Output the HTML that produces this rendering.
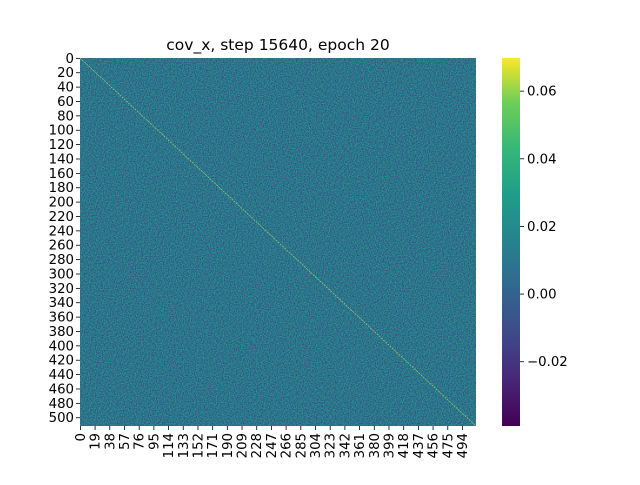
<!DOCTYPE html>
<html><head><meta charset="utf-8"><style>
body{margin:0;background:#fff}
svg text{font-family:"DejaVu Sans","Liberation Sans",sans-serif;font-size:13.3px;fill:#000}
</style></head><body>
<svg id="c" width="640" height="480">
<defs>
<linearGradient id="vir" x1="0" y1="1" x2="0" y2="0">
<stop offset="0" stop-color="#440154"/><stop offset="0.13" stop-color="#482878"/>
<stop offset="0.25" stop-color="#3e4a89"/><stop offset="0.38" stop-color="#31688e"/>
<stop offset="0.5" stop-color="#26828e"/><stop offset="0.63" stop-color="#1f9e89"/>
<stop offset="0.75" stop-color="#35b779"/><stop offset="0.88" stop-color="#6ece58"/>
<stop offset="1" stop-color="#fde725"/></linearGradient>
<filter id="nz" x="0" y="0" width="1" height="1" color-interpolation-filters="sRGB">
<feTurbulence type="fractalNoise" baseFrequency="0.85" numOctaves="2" seed="3"/>
<feColorMatrix values="-0.35 0 0 0 0.35  0.75 0 0 0 0.08  0 0 0 0 0.54  0 0 0 0 1"/>
<feComposite in2="SourceGraphic" operator="in"/>
</filter></defs>
<text x="278" y="50" text-anchor="middle" style="font-size:15.5px">cov_x, step 15640, epoch 20</text>
<g id="heat"></g>
<g id="xa"></g>
<g id="ya"></g>
<rect x="502" y="58" width="18" height="368" fill="url(#vir)"/>
<g id="cb"></g>
</svg>
<script>
const N = 512;
const xTicks = [0,19,38,57,76,95,114,133,152,171,190,209,228,247,266,285,304,323,342,361,380,399,418,437,456,475,494];
const yTicks = [0,20,40,60,80,100,120,140,160,180,200,220,240,260,280,300,320,340,360,380,400,420,440,460,480,500];
const cbTicks = [0.06,0.04,0.02,0.00,-0.02];
const cbLabels = ["0.06","0.04","0.02","0.00","\u22120.02"];
const vMin = -0.039, vMax = 0.0698;
const X0=80,X1=476,Y0=58,Y1=426;
const sx = i => X0 + i*(X1-X0)/N;
const sy = i => Y0 + i*(Y1-Y0)/N;
const cy = v => Y1 - (v - vMin)/(vMax - vMin)*(Y1-Y0);
const NS="http://www.w3.org/2000/svg";
function mk(t,a,p){const e=document.createElementNS(NS,t);for(const k in a)e.setAttribute(k,a[k]);p.appendChild(e);return e;}
const heat=document.getElementById('heat');
const bg=mk('rect',{x:X0,y:Y0,width:X1-X0,height:Y1-Y0,fill:'#2d6f8b',filter:'url(#nz)'},heat);


const dg=mk('line',{x1:sx(0),y1:sy(0),x2:sx(N),y2:sy(N),stroke:'#b5de5a','stroke-width':0.7,opacity:0.85,'stroke-dasharray':'2 1'},heat);


const xa=document.getElementById('xa');
xTicks.forEach(t=>{const x=sx(t+0.5);
 mk('line',{x1:x,y1:Y1,x2:x,y2:Y1+4,stroke:'#000','stroke-width':0.8},xa);
 const tx=mk('text',{x:0,y:0,transform:`translate(${x+4.5},${Y1+7}) rotate(-90)`,'text-anchor':'end'},xa);
 tx.textContent=t;
 
 });
const ya=document.getElementById('ya');
yTicks.forEach(t=>{const y=sy(t+0.5);
 mk('line',{x1:X0-4,y1:y,x2:X0,y2:y,stroke:'#000','stroke-width':0.8},ya);
 const tx=mk('text',{x:X0-6,y:y+4.5,'text-anchor':'end'},ya);
 tx.textContent=t;
 
 });
const cb=document.getElementById('cb');
cbTicks.forEach((v,i)=>{const y=cy(v);
 mk('line',{x1:520,y1:y,x2:524,y2:y,stroke:'#000','stroke-width':0.8},cb);
 const tx=mk('text',{x:527,y:y+4.5},cb);
 tx.textContent=cbLabels[i];
 
 });
</script>
</body></html>
